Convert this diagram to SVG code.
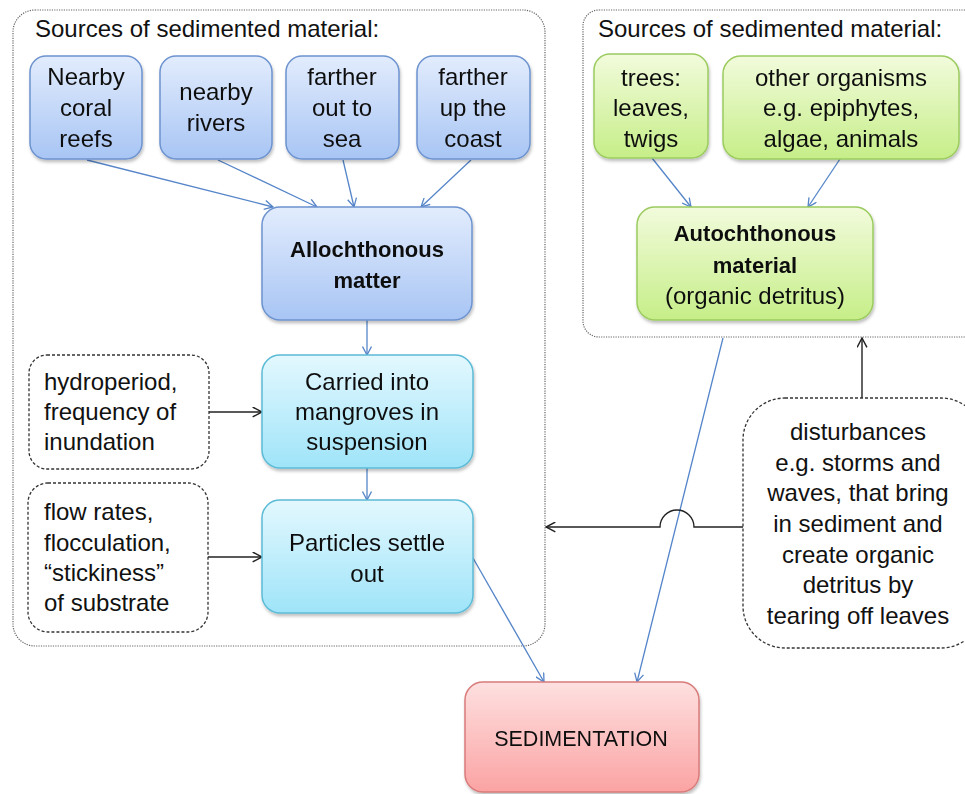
<svg xmlns="http://www.w3.org/2000/svg" width="965" height="794" viewBox="0 0 965 794">
<defs>
<linearGradient id="gBlue" x1="0" y1="0" x2="0" y2="1"><stop offset="0" stop-color="#e2ecfd"/><stop offset="1" stop-color="#a8c5f4"/></linearGradient>
<linearGradient id="gCyan" x1="0" y1="0" x2="0" y2="1"><stop offset="0" stop-color="#e3f8fe"/><stop offset="1" stop-color="#9fe4f9"/></linearGradient>
<linearGradient id="gGreen" x1="0" y1="0" x2="0" y2="1"><stop offset="0" stop-color="#f2fbdc"/><stop offset="1" stop-color="#c6ee88"/></linearGradient>
<linearGradient id="gRed" x1="0" y1="0" x2="0" y2="1"><stop offset="0" stop-color="#fee0e0"/><stop offset="1" stop-color="#fba3a3"/></linearGradient>
<filter id="sh" x="-10%" y="-10%" width="130%" height="130%"><feDropShadow dx="1" dy="2.5" stdDeviation="1.5" flood-color="#000" flood-opacity="0.25"/></filter>
<marker id="aBlue" viewBox="0 0 10 10" refX="9.5" refY="5" markerWidth="10" markerHeight="10" markerUnits="userSpaceOnUse" orient="auto"><path d="M1,0.5 L9.5,5 L1,9.5" fill="none" stroke="#5585c8" stroke-width="1.3"/></marker>
<marker id="aBlack" viewBox="0 0 10 10" refX="9.5" refY="5" markerWidth="11" markerHeight="11" markerUnits="userSpaceOnUse" orient="auto"><path d="M1,0.5 L9.5,5 L1,9.5" fill="none" stroke="#222" stroke-width="1.3"/></marker>
</defs>
<style>
text{font-family:"Liberation Sans",Arial,sans-serif;font-size:24px;fill:#111}
.c{text-anchor:middle}
.b{font-weight:bold;font-size:22px}
.cont{fill:#fff;stroke:#666;stroke-width:1.2;stroke-dasharray:1.2,1.2}
.blue{fill:url(#gBlue);stroke:#6d93cf;stroke-width:1.5}
.cyan{fill:url(#gCyan);stroke:#5cbbd6;stroke-width:1.5}
.green{fill:url(#gGreen);stroke:#9bcb5f;stroke-width:1.5}
.red{fill:url(#gRed);stroke:#d97b7b;stroke-width:1.5}
.dash{fill:#fff;stroke:#333;stroke-width:1.3;stroke-dasharray:3,2}
.lb{fill:none;stroke:#5585c8;stroke-width:1.3;marker-end:url(#aBlue)}
.lk{fill:none;stroke:#222;stroke-width:1.4;marker-end:url(#aBlack)}
</style>
<rect width="965" height="794" fill="#fff"/>

<g id="containers">
<rect id="left-container" class="cont" x="13" y="10" width="532" height="636" rx="22"/>
<rect id="right-container" class="cont" x="583" y="10" width="400" height="327" rx="16"/>
<text x="35" y="37">Sources of sedimented material:</text>
<text x="598" y="37">Sources of sedimented material:</text>
</g>

<g id="connectors">
<line class="lb" x1="87" y1="160" x2="273" y2="207"/>
<line class="lb" x1="218" y1="160" x2="317" y2="207"/>
<line class="lb" x1="343" y1="160" x2="354" y2="207"/>
<line class="lb" x1="471" y1="160" x2="421" y2="207"/>
<line class="lb" x1="367" y1="320" x2="367" y2="355"/>
<line class="lb" x1="367" y1="468" x2="367" y2="500"/>
<line class="lk" x1="209" y1="412" x2="262" y2="412"/>
<line class="lk" x1="208" y1="557" x2="262" y2="557"/>
<line class="lb" x1="652" y1="158" x2="691" y2="207"/>
<line class="lb" x1="840" y1="159" x2="808" y2="207"/>
<line class="lb" x1="473" y1="558" x2="544" y2="682"/>
<line class="lb" x1="723" y1="338" x2="637" y2="682"/>
<line class="lk" x1="862" y1="398" x2="862" y2="338"/>
<path class="lk" d="M743,527 H694 A17,17 0 0 0 660,527 H546"/>
</g>

<g id="n-coral" filter="url(#sh)"><rect class="blue" x="30" y="56" width="112" height="103" rx="16"/>
<text class="c" x="86" y="85">Nearby</text><text class="c" x="86" y="116">coral</text><text class="c" x="86" y="147">reefs</text></g>
<g id="n-rivers" filter="url(#sh)"><rect class="blue" x="160" y="56" width="112" height="103" rx="16"/>
<text class="c" x="216" y="100">nearby</text><text class="c" x="216" y="131">rivers</text></g>
<g id="n-sea" filter="url(#sh)"><rect class="blue" x="286" y="56" width="113" height="103" rx="16"/>
<text class="c" x="342" y="85">farther</text><text class="c" x="342" y="116">out to</text><text class="c" x="342" y="147">sea</text></g>
<g id="n-coast" filter="url(#sh)"><rect class="blue" x="417" y="56" width="113" height="103" rx="16"/>
<text class="c" x="473" y="85">farther</text><text class="c" x="473" y="116">up the</text><text class="c" x="473" y="147">coast</text></g>
<g id="n-allochthonous" filter="url(#sh)"><rect class="blue" x="262" y="207" width="210" height="113" rx="18"/>
<text class="c b" x="367" y="257">Allochthonous</text><text class="c b" x="367" y="288">matter</text></g>
<g id="n-hydroperiod"><rect class="dash" x="29" y="355" width="180" height="114" rx="18"/>
<text x="44" y="390">hydroperiod,</text><text x="44" y="420">frequency of</text><text x="44" y="450">inundation</text></g>
<g id="n-carried" filter="url(#sh)"><rect class="cyan" x="262" y="355" width="211" height="113" rx="18"/>
<text class="c" x="367" y="390">Carried into</text><text class="c" x="367" y="420">mangroves in</text><text class="c" x="367" y="450">suspension</text></g>
<g id="n-flow"><rect class="dash" x="28" y="483" width="180" height="149" rx="20"/>
<text x="44" y="520">flow rates,</text><text x="44" y="551">flocculation,</text><text x="44" y="581">“stickiness”</text><text x="44" y="611">of substrate</text></g>
<g id="n-particles" filter="url(#sh)"><rect class="cyan" x="262" y="500" width="211" height="113" rx="18"/>
<text class="c" x="367" y="551">Particles settle</text><text class="c" x="367" y="582">out</text></g>
<g id="n-trees" filter="url(#sh)"><rect class="green" x="594" y="54" width="114" height="104" rx="16"/>
<text class="c" x="651" y="86">trees:</text><text class="c" x="651" y="116">leaves,</text><text class="c" x="651" y="147">twigs</text></g>
<g id="n-organisms" filter="url(#sh)"><rect class="green" x="723" y="56" width="236" height="103" rx="18"/>
<text class="c" x="841" y="86">other organisms</text><text class="c" x="841" y="116">e.g. epiphytes,</text><text class="c" x="841" y="147">algae, animals</text></g>
<g id="n-autochthonous" filter="url(#sh)"><rect class="green" x="637" y="207" width="236" height="113" rx="18"/>
<text class="c b" x="755" y="241">Autochthonous</text><text class="c b" x="755" y="273">material</text><text class="c" x="755" y="304">(organic detritus)</text></g>
<g id="n-disturbances"><rect class="dash" x="743" y="398" width="240" height="250" rx="42"/>
<text class="c" x="858" y="440">disturbances</text><text class="c" x="858" y="471">e.g. storms and</text><text class="c" x="858" y="501">waves, that bring</text><text class="c" x="858" y="532">in sediment and</text><text class="c" x="858" y="563">create organic</text><text class="c" x="858" y="593">detritus by</text><text class="c" x="858" y="624">tearing off leaves</text></g>
<g id="n-sedimentation" filter="url(#sh)"><rect class="red" x="465" y="682" width="234" height="110" rx="18"/>
<text class="c" x="581" y="746" style="font-size:21.5px">SEDIMENTATION</text></g>
</svg>
